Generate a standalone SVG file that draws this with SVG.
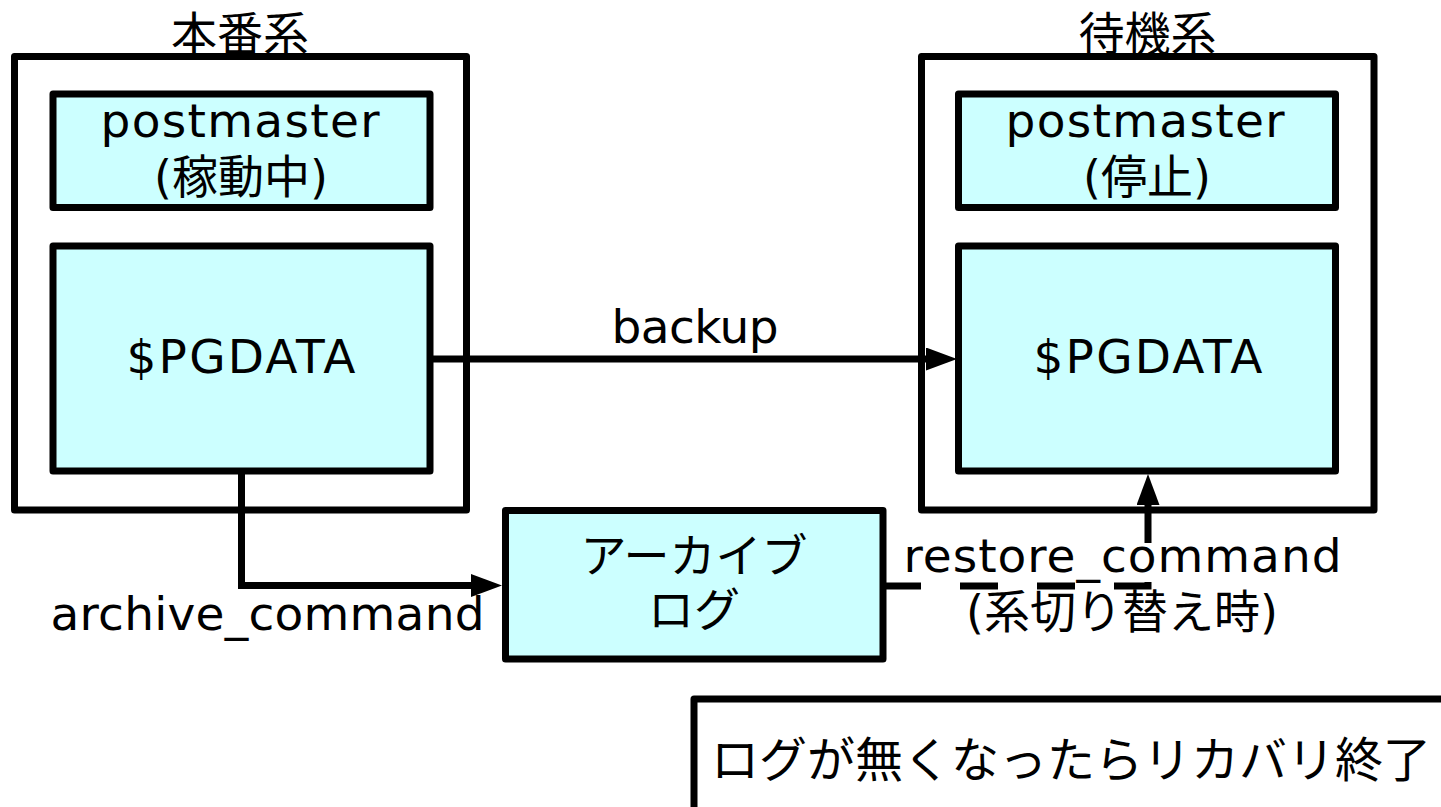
<svg xmlns="http://www.w3.org/2000/svg" width="1441" height="807" viewBox="0 0 1441 807">
  <style>
    .sys { fill: #ffffff; stroke: #000000; stroke-width: 7; stroke-linejoin: round; }
    .box { fill: #ccffff; stroke: #000000; stroke-width: 7; stroke-linejoin: round; }
    .note { fill: #ffffff; stroke: #000000; stroke-width: 7; stroke-linejoin: round; }
    .lat { font-family: "DejaVu Sans", "Noto Sans CJK JP", sans-serif; font-size: 47px; fill: #000000; }
    .jp { font-family: "DejaVu Sans", "Noto Sans CJK JP", sans-serif; font-size: 46px; fill: #000000; }
    .big { font-family: "Noto Sans CJK JP", sans-serif; font-size: 48px; fill: #000000; }
    .mid { text-anchor: middle; }
    .conn { fill: none; stroke: #000000; stroke-width: 7; stroke-linejoin: miter; }
    .dash { stroke-dasharray: 38 39; }
  </style>
  <defs>
    <marker id="arrow" markerUnits="userSpaceOnUse" markerWidth="31" markerHeight="23" viewBox="0 0 31 23" refX="0" refY="11.5" orient="auto">
      <path d="M0,0 L31,11.5 L0,23 z" fill="#000000"/>
    </marker>
  </defs>

  <g id="primary-system">
    <rect class="sys" x="14.5" y="56.5" width="452" height="453.5"/>
    <text class="jp mid" x="240" y="50">本番系</text>
  </g>
  <g id="primary-postmaster">
    <rect class="box" x="53" y="94" width="377" height="113.5"/>
    <text class="lat mid" x="240" y="137" textLength="279">postmaster</text>
    <text class="jp mid" x="241" y="193">(稼動中)</text>
  </g>
  <g id="primary-pgdata">
    <rect class="box" x="53" y="246" width="377" height="225"/>
    <text class="lat mid" x="241" y="373" textLength="229">$PGDATA</text>
  </g>

  <g id="standby-system">
    <rect class="sys" x="921.5" y="56.5" width="452.5" height="453.5"/>
    <text class="jp mid" x="1147.5" y="50">待機系</text>
  </g>
  <g id="standby-postmaster">
    <rect class="box" x="958.5" y="94" width="377" height="113.5"/>
    <text class="lat mid" x="1145" y="137" textLength="279">postmaster</text>
    <text class="jp mid" x="1147" y="193">(停止)</text>
  </g>
  <g id="standby-pgdata">
    <rect class="box" x="958.5" y="246" width="377" height="225"/>
    <text class="lat mid" x="1148" y="373" textLength="229">$PGDATA</text>
  </g>

  <g id="archive-log">
    <rect class="box" x="505.5" y="510.5" width="377.5" height="148.5"/>
    <text class="jp mid" x="694" y="572">アーカイブ</text>
    <text class="jp mid" x="694" y="626">ログ</text>
  </g>

  <g id="note">
    <rect class="note" x="694" y="699" width="800" height="200"/>
    <text class="big" x="711" y="777">ログが無くなったらリカバリ終了</text>
  </g>

  <g id="connectors">
    <path class="conn" d="M433,359 H926" marker-end="url(#arrow)"/>
    <text class="lat mid" x="695" y="343" textLength="167">backup</text>

    <path class="conn" d="M241.5,474 V585.5 H471" marker-end="url(#arrow)"/>
    <text class="lat mid" x="267.5" y="630" textLength="434">archive_command</text>

    <path class="conn dash" d="M883,586 H1148 V505" marker-end="url(#arrow)"/>
    <text class="lat mid" x="1122.5" y="572" textLength="438">restore_command</text>
    <text class="jp mid" x="1122" y="628">(系切り替え時)</text>
  </g>
</svg>
